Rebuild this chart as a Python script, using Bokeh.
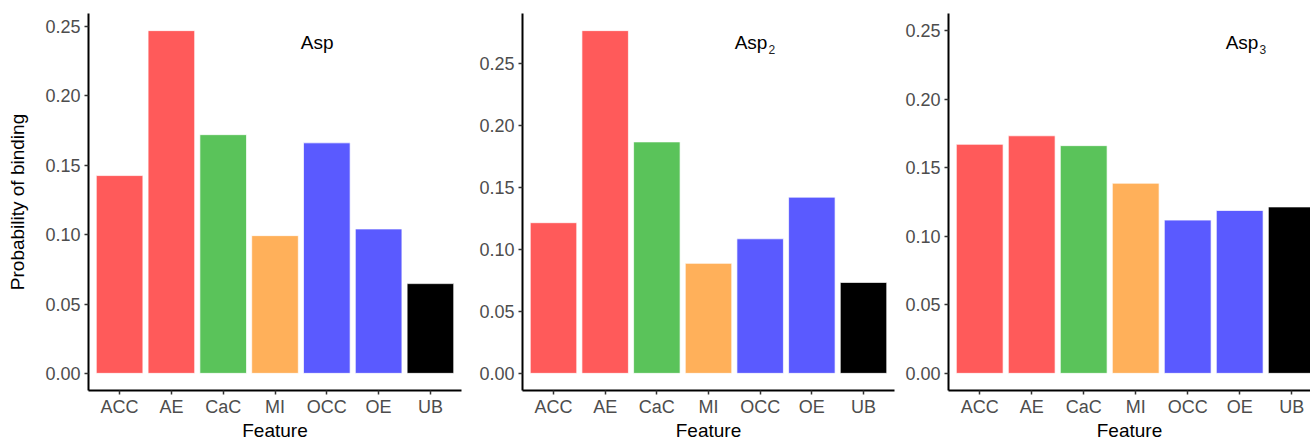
from bokeh.plotting import figure
from bokeh.layouts import row
from bokeh.models import Range1d, FixedTicker, NumeralTickFormatter, ColumnDataSource
from bokeh.embed import file_html
from bokeh.resources import INLINE
from bokeh.core.properties import value

# ---------------- data ----------------
features = ["ACC", "AE", "CaC", "MI", "OCC", "OE", "UB"]
bar_colors = ["#FF5A5A", "#FF5A5A", "#5AC35A", "#FFB05A", "#5A5AFF", "#5A5AFF", "#000000"]
asp_vals = [0.1426, 0.2471, 0.1721, 0.0993, 0.1662, 0.1041, 0.0647]
asp2_vals = [0.1216, 0.2766, 0.1868, 0.0888, 0.1086, 0.1422, 0.0734]
asp3_vals = [0.1671, 0.1733, 0.1661, 0.1387, 0.1118, 0.1188, 0.1214]
y_tick_values = [0.0, 0.05, 0.10, 0.15, 0.20, 0.25]
panel_names = ["Asp", "Asp", "Asp"]
panel_subscripts = ["", "2", "3"]
asp3_ymax = 0.25
# annotation anchor (data coords: right edge of "Asp")
annot_x = [4.13, 4.14, 5.36]
annot_y = [0.2385, 0.267, 0.241]

FONT = "Liberation Sans"
TICK_COLOR = "#4D4D4D"
FIG_H = 443


def make_panel(vals, ymax, width, bl, br, x_end, ylabel, name, sub, ax, ay):
    pad = 0.05 * ymax
    p = figure(width=width, height=FIG_H, output_backend="svg", toolbar_location=None,
               x_range=Range1d(-0.6, x_end), y_range=Range1d(-pad, ymax + pad),
               min_border_left=bl, min_border_right=br, min_border_top=13, min_border_bottom=0)
    p.xgrid.visible = False
    p.ygrid.visible = False
    p.outline_line_color = None
    p.background_fill_color = "white"
    p.border_fill_color = "white"

    src = ColumnDataSource(dict(x=list(range(len(features))), top=vals, color=bar_colors))
    p.vbar(x="x", top="top", width=0.9, source=src, fill_color="color",
           line_color="white", line_alpha=0.7, line_width=1)

    # annotation
    p.text(x=[ax], y=[ay], text=[name], text_align="right", text_baseline="middle",
           text_font=value(FONT), text_font_size="19px", text_color="black")
    if sub:
        p.text(x=[ax], y=[ay], text=[sub], text_align="left", text_baseline="middle",
               y_offset=7, x_offset=1, text_font=value(FONT), text_font_size="12px",
               text_color="#222222")

    # axes
    for ax_ in (p.xaxis[0], p.yaxis[0]):
        ax_.axis_line_color = "black"
        ax_.axis_line_width = 2
        ax_.major_tick_line_color = "#333333"
        ax_.major_tick_line_width = 1.5
        ax_.major_tick_out = 4
        ax_.major_tick_in = 0
        ax_.minor_tick_line_color = None
        ax_.major_label_text_color = TICK_COLOR
        ax_.major_label_text_font = FONT
        ax_.major_label_text_font_size = "18px"
        ax_.axis_label_text_font = FONT
        ax_.axis_label_text_font_style = "normal"
        ax_.axis_label_text_color = "black"

    p.xaxis.ticker = FixedTicker(ticks=list(range(len(features))))
    p.xaxis.major_label_overrides = {i: f for i, f in enumerate(features)}
    p.xaxis.axis_label = "Feature"
    p.xaxis.axis_label_text_font_size = "19px"
    p.xaxis.major_label_standoff = 2
    p.xaxis.axis_label_standoff = 0

    p.yaxis.ticker = FixedTicker(ticks=y_tick_values)
    p.yaxis.formatter = NumeralTickFormatter(format="0.00")
    p.yaxis.major_label_standoff = 4
    if ylabel:
        p.yaxis.axis_label = ylabel
        p.yaxis.axis_label_text_font_size = "19px"
        p.yaxis.axis_label_standoff = 14
    return p


p1 = make_panel(asp_vals, max(asp_vals), 470, 88, 9, 6.6, "Probability of binding",
                panel_names[0], panel_subscripts[0], annot_x[0], annot_y[0])
p2 = make_panel(asp2_vals, max(asp2_vals), 430, 52, 6, 6.6, None,
                panel_names[1], panel_subscripts[1], annot_x[1], annot_y[1])
p3 = make_panel(asp3_vals, asp3_ymax, 410, 48, 0, -0.6 + 362 / 52.0, None,
                panel_names[2], panel_subscripts[2], annot_x[2], annot_y[2])

layout = row(p1, p2, p3)
open("out.html", "w").write(file_html(layout, INLINE))
